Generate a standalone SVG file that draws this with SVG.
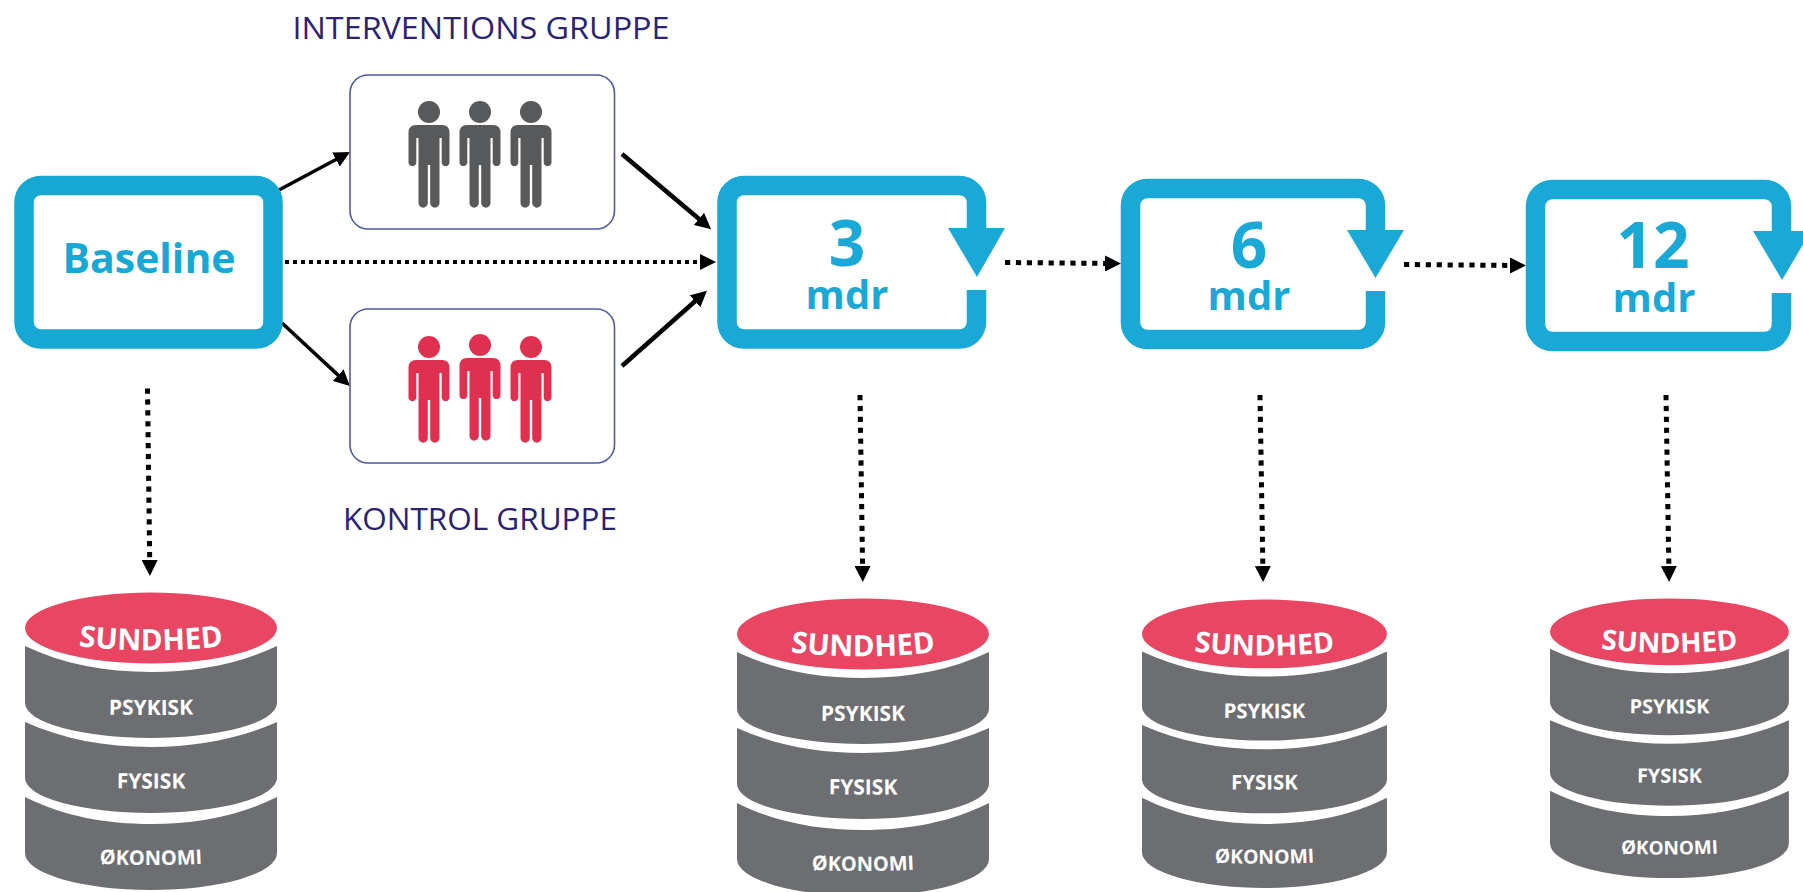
<svg xmlns="http://www.w3.org/2000/svg" width="1803" height="892" viewBox="0 0 1803 892">
<style>
text{font-family:"Open Sans","Noto Sans","Liberation Sans",sans-serif}
.ring{fill:#fff;stroke:#16a7d3;stroke-width:19.5}
.open{fill:none;stroke:#1aa8d7;stroke-width:19.5}
.tri{fill:#1aa8d7}
.big{font-size:41px;font-weight:700;fill:#18a8d6;text-anchor:middle}
.stage{fill:#1aa8d7;text-anchor:middle;font-weight:700}
.num{font-size:64px}
.mdr{font-size:40px}
.grp{fill:#fff;stroke:#4f5ba3;stroke-width:1.6}
.lbl{font-size:31px;fill:#2b2272}
.solid{fill:none;stroke:#000;stroke-width:3.5;marker-end:url(#h)}
.thick{fill:none;stroke:#000;stroke-width:4.5;marker-end:url(#h)}
.dot4{fill:none;stroke:#000;stroke-width:4;stroke-dasharray:4 4;marker-end:url(#h)}
.dot5{fill:none;stroke:#000;stroke-width:5;stroke-dasharray:5.2 5.7;marker-end:url(#h)}
.grey{fill:#58595b}
.red{fill:#df3050}
.cg{fill:#6d6e71}
.cr{fill:#e84663}
.cs{font-size:29.500px;font-weight:700;fill:#fff;text-anchor:middle}
.ct{font-size:21px;font-weight:700;fill:#fff;text-anchor:middle}
.ck{font-size:20px;font-weight:700;fill:#fff;text-anchor:middle}
</style>
<defs>
<marker id="h" markerUnits="userSpaceOnUse" markerWidth="16" markerHeight="16" refX="8" refY="8" orient="auto"><path d="M0 0L16 8L0 16Z" fill="#000"/></marker>
<g id="person">
<circle cx="0" cy="0" r="11"/>
<path d="M-13 13H13Q20.500 13 20.500 21V51A4 4 0 0 1 12.700 51V26H10.500V91A4.650 4.650 0 0 1 1.200 91V53H-1.200V91A4.650 4.650 0 0 1 -10.500 91V26H-12.700V51A4 4 0 0 1 -20.500 51V21Q-20.500 13 -13 13Z"/>
</g>
<g id="cyl">
<ellipse class="cr" cx="126" cy="36" rx="126" ry="35.500"/>
<path class="cg" d="M0 54C38 72 80 80 126 80S214 72 252 54V111A126 35 0 0 1 0 111Z"/>
<path class="cg" d="M0 130C38 147 80 155 126 155S214 147 252 130V186A126 35 0 0 1 0 186Z"/>
<path class="cg" d="M0 205C38 224 80 232 126 232S214 224 252 205V261A126 37 0 0 1 0 261Z"/>
</g>
<path id="a1" d="M26 50.500Q126 66 226 50.500"/>
<path id="a2" d="M26 121Q126 125 226 121"/>
<path id="a3" d="M26 195Q126 198 226 195"/>
<path id="a4" d="M26 268Q126 278 226 268"/>
</defs>

<g id="connectors">
<path class="solid" d="M279 190L343 155.800"/>
<path class="solid" d="M282 323L344 380.600"/>
<path class="thick" d="M622 154L705 224"/>
<path class="thick" d="M622 366L701 296"/>
<path class="dot4" d="M285 262H708"/>
<path class="dot5" d="M1005 262.500L1113 263.500"/>
<path class="dot5" d="M1404 264.500L1518 265.500"/>
<path class="dot5" d="M147.500 388.500L149.800 568"/>
<path class="dot5" d="M860 395L862.700 574"/>
<path class="dot5" d="M1260 395L1263 574"/>
<path class="dot5" d="M1666 395L1669 574"/>
</g>

<g id="baseline">
<rect class="ring" x="24" y="185.500" width="249" height="153.500" rx="17"/>
<text class="big" x="149" y="273">Baseline</text>
</g>

<g id="interventions">
<rect class="grp" x="350" y="75" width="264.500" height="154" rx="18"/>
<use href="#person" class="grey" x="429" y="112"/>
<use href="#person" class="grey" x="480" y="112"/>
<use href="#person" class="grey" x="531" y="112"/>
<text class="lbl" x="292.500" y="39" textLength="377" lengthAdjust="spacingAndGlyphs">INTERVENTIONS GRUPPE</text>
</g>

<g id="kontrol">
<rect class="grp" x="350" y="309" width="264.500" height="154" rx="18"/>
<use href="#person" class="red" x="429" y="347"/>
<use href="#person" class="red" x="480" y="345"/>
<use href="#person" class="red" x="531" y="347"/>
<text class="lbl" x="343" y="530" textLength="274" lengthAdjust="spacingAndGlyphs">KONTROL GRUPPE</text>
</g>

<g id="m3">
<path class="open" d="M976.500 290V322A17 17 0 0 1 959.500 339H744A17 17 0 0 1 727 322V202.500A17 17 0 0 1 744 185.500H959.500A17 17 0 0 1 976.500 202.500V235"/>
<path class="tri" d="M948 228H1005L977 277Z"/>
<text class="stage"><tspan class="num" x="847" y="266">3</tspan><tspan class="mdr" x="847" y="309">mdr</tspan></text>
</g>

<g id="m6">
<path class="open" d="M1375.500 291V322.500A17 17 0 0 1 1358.500 339.500H1147.500A17 17 0 0 1 1130.500 322.500V205.500A17 17 0 0 1 1147.500 188.500H1358.500A17 17 0 0 1 1375.500 205.500V237"/>
<path class="tri" d="M1347 230H1404L1375.500 278Z"/>
<text class="stage"><tspan class="num" x="1249" y="268">6</tspan><tspan class="mdr" x="1249" y="310">mdr</tspan></text>
</g>

<g id="m12">
<path class="open" d="M1781.500 293V324.500A17 17 0 0 1 1764.500 341.500H1552.500A17 17 0 0 1 1535.500 324.500V206.500A17 17 0 0 1 1552.500 189.500H1764.500A17 17 0 0 1 1781.500 206.500V238"/>
<path class="tri" d="M1753 231H1811L1782 280Z"/>
<text class="stage"><tspan class="num" x="1653" y="268">12</tspan><tspan class="mdr" x="1654" y="312">mdr</tspan></text>
</g>

<g id="db-baseline" transform="translate(25 592)">
<use href="#cyl"/>
<text class="cs"><textPath href="#a1" startOffset="50%">SUNDHED</textPath></text>
<text class="ct"><textPath href="#a2" startOffset="50%">PSYKISK</textPath></text>
<text class="ct"><textPath href="#a3" startOffset="50%">FYSISK</textPath></text>
<text class="ck"><textPath href="#a4" startOffset="50%">ØKONOMI</textPath></text>
</g>
<g id="db-3" transform="translate(737 598)">
<use href="#cyl"/>
<text class="cs"><textPath href="#a1" startOffset="50%">SUNDHED</textPath></text>
<text class="ct"><textPath href="#a2" startOffset="50%">PSYKISK</textPath></text>
<text class="ct"><textPath href="#a3" startOffset="50%">FYSISK</textPath></text>
<text class="ck"><textPath href="#a4" startOffset="50%">ØKONOMI</textPath></text>
</g>
<g id="db-6" transform="translate(1142 599) scale(.972 .97)">
<use href="#cyl"/>
<text class="cs"><textPath href="#a1" startOffset="50%">SUNDHED</textPath></text>
<text class="ct"><textPath href="#a2" startOffset="50%">PSYKISK</textPath></text>
<text class="ct"><textPath href="#a3" startOffset="50%">FYSISK</textPath></text>
<text class="ck"><textPath href="#a4" startOffset="50%">ØKONOMI</textPath></text>
</g>
<g id="db-12" transform="translate(1550 598) scale(.948 .94)">
<use href="#cyl"/>
<text class="cs"><textPath href="#a1" startOffset="50%">SUNDHED</textPath></text>
<text class="ct"><textPath href="#a2" startOffset="50%">PSYKISK</textPath></text>
<text class="ct"><textPath href="#a3" startOffset="50%">FYSISK</textPath></text>
<text class="ck"><textPath href="#a4" startOffset="50%">ØKONOMI</textPath></text>
</g>
</svg>
